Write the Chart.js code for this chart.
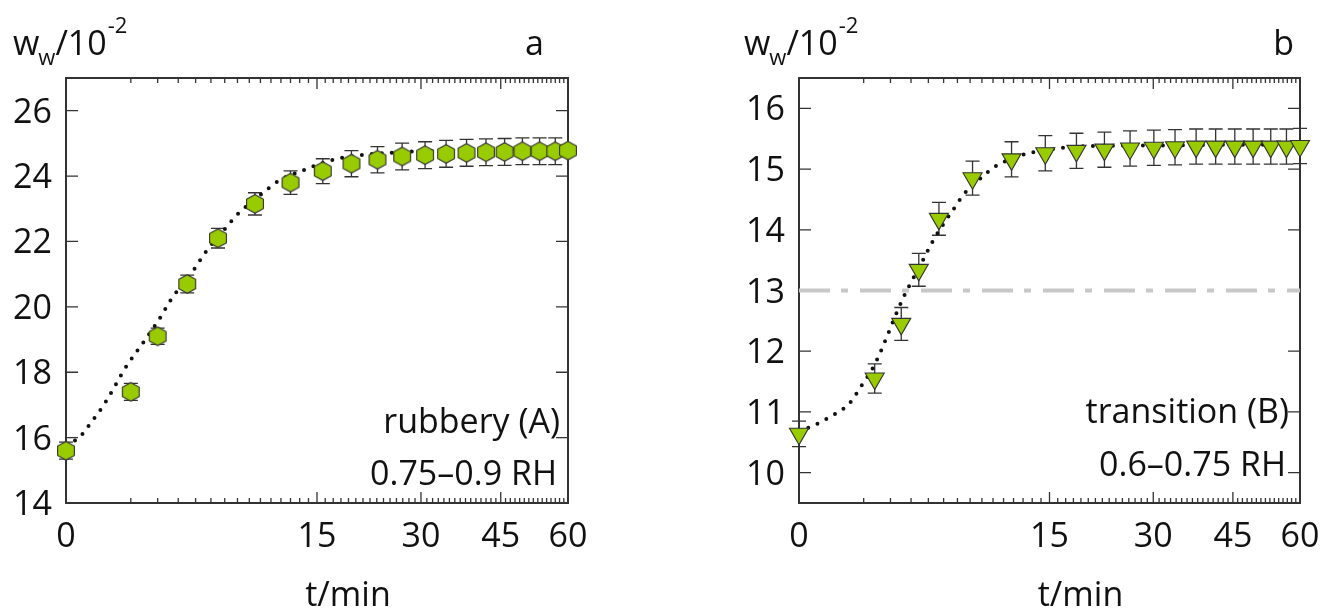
<!DOCTYPE html>
<html>
<head>
<meta charset="utf-8">
<script src="https://cdn.jsdelivr.net/npm/chart.js@4.4.0/dist/chart.umd.min.js"></script>
<style>
  html, body { margin: 0; padding: 0; background: #fff; }
  #wrap { position: relative; width: 1322px; height: 610px; }
  canvas { position: absolute; top: 0; }
  #chartA { left: 0; }
  #chartB { left: 661px; }
</style>
</head>
<body>
<div id="wrap">
  <canvas id="chartA" width="661" height="610"></canvas>
  <canvas id="chartB" width="661" height="610"></canvas>
</div>
<script>
// tick labels
const xTicks = [0, 15, 30, 45, 60];
const yTicksA = [14, 16, 18, 20, 22, 24, 26];
const yTicksB = [10, 11, 12, 13, 14, 15, 16];

// panel a: rubbery (A), 0.75-0.9 RH
const tA = [0, 1, 2, 3.5, 5.5, 8.5, 12, 15.7, 19.4, 23.1, 26.9, 30.7, 34.4, 38.2, 42, 45.8, 49.6, 53.4, 57, 60];
const wA = [15.6, 17.4, 19.1, 20.7, 22.1, 23.15, 23.8, 24.15, 24.38, 24.5, 24.6, 24.64, 24.68, 24.71, 24.73, 24.74, 24.76, 24.76, 24.76, 24.78];
const errA = [0.26, 0.26, 0.25, 0.27, 0.3, 0.34, 0.36, 0.38, 0.4, 0.4, 0.41, 0.41, 0.41, 0.41, 0.41, 0.41, 0.41, 0.41, 0.41, 0];
const fitTA = [0, 0.04, 0.16, 0.34, 0.58, 0.82, 1.37, 2.05, 2.6, 3.84, 4.6, 5.94, 7.06, 9.1, 10.75, 13.6, 17, 21, 25.5, 30, 40, 50, 60];
const fitWA = [15.78, 16.0, 16.5, 17.0, 17.6, 18.1, 18.85, 19.6, 20.2, 21.1, 21.65, 22.35, 22.85, 23.45, 23.85, 24.2, 24.5, 24.65, 24.72, 24.76, 24.8, 24.82, 24.83];

// panel b: transition (B), 0.6-0.75 RH
const tB = [0, 1.37, 2.5, 3.43, 4.68, 7.2, 10.8, 14.5, 18.4, 22.3, 26.2, 30.1, 33.8, 37.7, 41.5, 45.4, 49.3, 53.2, 56.8, 60];
const wB = [10.64, 11.55, 12.45, 13.34, 14.18, 14.85, 15.16, 15.26, 15.3, 15.32, 15.34, 15.35, 15.36, 15.37, 15.37, 15.37, 15.37, 15.37, 15.37, 15.38];
const errB = [0.21, 0.24, 0.27, 0.27, 0.27, 0.28, 0.29, 0.29, 0.29, 0.29, 0.29, 0.29, 0.29, 0.29, 0.29, 0.29, 0.29, 0.29, 0.29, 0.29];
const fitTB = [0, 0.02, 0.065, 0.16, 0.3, 0.45, 0.62, 0.93, 1.3, 1.59, 1.9, 2.24, 2.61, 3.1, 3.6, 4.23, 4.92, 5.68, 6.55, 7.82, 9.27, 12.1, 15.4, 20.6, 31.8, 45, 60];
const fitWB = [10.68, 10.74, 10.79, 10.87, 10.96, 11.04, 11.15, 11.43, 11.72, 11.99, 12.29, 12.6, 12.89, 13.19, 13.46, 13.79, 14.07, 14.33, 14.6, 14.84, 15.05, 15.24, 15.33, 15.38, 15.39, 15.4, 15.4];
const glassLineB = 13;

const FONT = '"Open Sans", sans-serif';
const ink = '#111';
const axisCol = '#333';
const green = '#99cc00';

function hexagon() {
  const c = document.createElement('canvas');
  c.width = 20; c.height = 22;
  const g = c.getContext('2d');
  g.translate(10, 11);
  g.beginPath();
  g.moveTo(0, -9.3); g.lineTo(8.4, -4.65); g.lineTo(8.4, 4.65);
  g.lineTo(0, 9.3); g.lineTo(-8.4, 4.65); g.lineTo(-8.4, -4.65);
  g.closePath();
  g.fillStyle = green; g.fill();
  g.lineWidth = 1.1; g.strokeStyle = axisCol; g.stroke();
  return c;
}

const framePlugin = {
  id: 'frame',
  beforeDatasetsDraw(chart, args, o) {
    const { ctx, chartArea: a, scales: { x, y } } = chart;
    ctx.save();
    ctx.strokeStyle = axisCol;
    ctx.lineWidth = 2;
    ctx.strokeRect(a.left, a.top, a.right - a.left, a.bottom - a.top);
    ctx.lineWidth = 1.3;
    ctx.beginPath();
    for (let m = 1; m < 60; m++) {
      const px = x.getPixelForValue(Math.sqrt(m));
      const len = m % 15 === 0 ? 11 : 5;
      ctx.moveTo(px, a.bottom); ctx.lineTo(px, a.bottom - len);
      ctx.moveTo(px, a.top); ctx.lineTo(px, a.top + len);
    }
    y.ticks.forEach(t => {
      const py = y.getPixelForValue(t.value);
      ctx.moveTo(a.left, py); ctx.lineTo(a.left + 12, py);
      ctx.moveTo(a.right, py); ctx.lineTo(a.right - 12, py);
    });
    ctx.stroke();

    // error bars
    ctx.lineWidth = 1.3;
    ctx.beginPath();
    o.t.forEach((t, i) => {
      if (!o.err[i]) return;
      const px = x.getPixelForValue(Math.sqrt(t));
      const y1 = y.getPixelForValue(o.w[i] + o.err[i]);
      const y2 = y.getPixelForValue(o.w[i] - o.err[i]);
      ctx.moveTo(px, y1); ctx.lineTo(px, y2);
      ctx.moveTo(px - 7, y1); ctx.lineTo(px + 7, y1);
      ctx.moveTo(px - 7, y2); ctx.lineTo(px + 7, y2);
    });
    ctx.stroke();
    ctx.restore();
  },
  afterDraw(chart, args, o) {
    const { ctx, chartArea: a, scales: { x, y } } = chart;
    ctx.save();
    ctx.fillStyle = ink;
    ctx.font = '34px ' + FONT;
    ctx.textAlign = 'right';
    y.ticks.forEach(t => ctx.fillText(String(t.value), a.left - 14, y.getPixelForValue(t.value) + 12));
    ctx.textAlign = 'center';
    x.ticks.forEach(t => ctx.fillText(String(Math.round(t.value * t.value)), x.getPixelForValue(t.value), 547));
    ctx.fillText('t/min', (a.left + a.right) / 2 + 31, 606);

    ctx.textAlign = 'right';
    ctx.fillText(o.letter, o.letterX, 55);
    ctx.fillText(o.note1, o.noteX1, o.noteY1);
    ctx.fillText(o.note2, o.noteX2, o.noteY2);

    // y title w_w/10^-2
    ctx.textAlign = 'left';
    let x0 = o.titleX;
    ctx.fillText('w', x0, 55);
    x0 += ctx.measureText('w').width;
    ctx.font = '22px ' + FONT;
    ctx.fillText('w', x0 - 1, 65);
    x0 += ctx.measureText('w').width - 1;
    ctx.font = '34px ' + FONT;
    ctx.fillText('/10', x0, 55);
    x0 += ctx.measureText('/10').width;
    ctx.font = '22px ' + FONT;
    ctx.fillText('-2', x0 + 1, 33);
    ctx.restore();
  }
};

function makeChart(id, o) {
  const datasets = [
    {
      data: o.t.map((t, i) => ({ x: Math.sqrt(t), y: o.w[i] })),
      showLine: false,
      pointStyle: o.pointStyle,
      pointRadius: o.pointRadius,
      rotation: o.rotation,
      backgroundColor: green,
      borderColor: axisCol,
      pointBorderWidth: 1.1,
      clip: false
    },
    {
      data: o.fitT.map((t, i) => ({ x: Math.sqrt(t), y: o.fitW[i] })),
      borderColor: '#111',
      borderWidth: 4,
      borderDash: [0, 10],
      borderCapStyle: 'round',
      pointRadius: 0,
      cubicInterpolationMode: 'monotone',
      fill: false
    }
  ];
  if (o.refY !== undefined) {
    datasets.push({
      data: [{ x: 0, y: o.refY }, { x: Math.sqrt(60), y: o.refY }],
      borderColor: '#c8c8c8',
      borderWidth: 4,
      borderDash: [31, 11, 7, 12],
      pointRadius: 0,
      fill: false
    });
  }
  return new Chart(document.getElementById(id), {
    type: 'line',
    data: { datasets },
    options: {
      responsive: false,
      animation: false,
      events: [],
      layout: { padding: { top: 78, right: o.padRight, left: 0, bottom: 0 } },
      plugins: { legend: { display: false }, tooltip: { enabled: false }, frame: o },
      scales: {
        x: {
          type: 'linear', min: 0, max: Math.sqrt(60),
          grid: { display: false, drawTicks: false }, border: { display: false },
          ticks: { display: false },
          afterBuildTicks: s => { s.ticks = xTicks.map(v => ({ value: Math.sqrt(v) })); },
          afterFit: s => { s.height = 107; }
        },
        y: {
          type: 'linear', min: o.yMin, max: o.yMax,
          grid: { display: false, drawTicks: false }, border: { display: false },
          ticks: { display: false },
          afterBuildTicks: s => { s.ticks = o.yTicks.map(v => ({ value: v })); },
          afterFit: s => { s.width = o.yWidth; }
        }
      }
    },
    plugins: [framePlugin]
  });
}

makeChart('chartA', {
  t: tA, w: wA, err: errA, fitT: fitTA, fitW: fitWA,
  pointStyle: hexagon(), pointRadius: 10, rotation: 0,
  yMin: 14, yMax: 27, yTicks: yTicksA, yWidth: 66, padRight: 93,
  letter: 'a', letterX: 544, titleX: 13,
  note1: 'rubbery (A)', noteX1: 560, noteY1: 433,
  note2: '0.75\u20130.9 RH', noteX2: 557, noteY2: 485
});

makeChart('chartB', {
  t: tB, w: wB, err: errB, fitT: fitTB, fitW: fitWB, refY: glassLineB,
  pointStyle: 'triangle', pointRadius: 11, rotation: 180,
  yMin: 9.5, yMax: 16.5, yTicks: yTicksB, yWidth: 138, padRight: 22,
  letter: 'b', letterX: 633, titleX: 83,
  note1: 'transition (B)', noteX1: 628, noteY1: 423,
  note2: '0.6\u20130.75 RH', noteX2: 625, noteY2: 476
});
</script>
</body>
</html>
